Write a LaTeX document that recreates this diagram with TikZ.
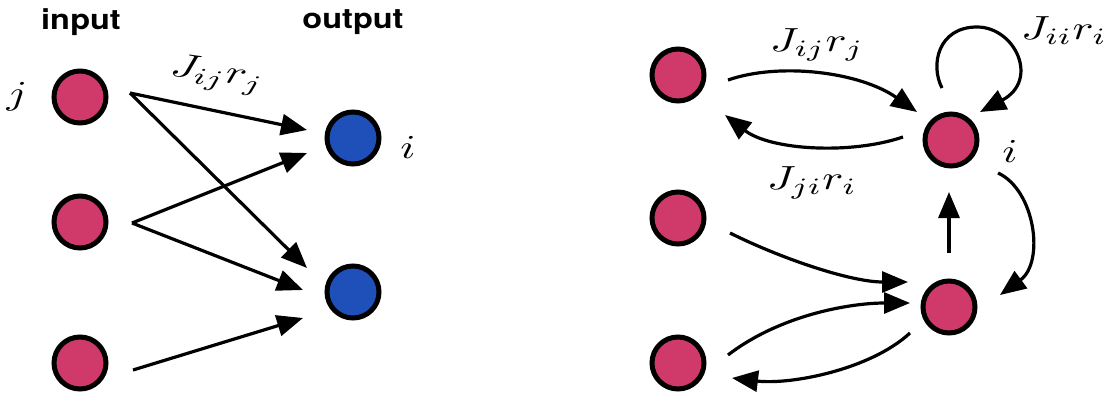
\documentclass[tikz,border=0pt]{standalone}
\usepackage{fontspec}
\newfontfamily\headfont{TeX Gyre Heros}
\usetikzlibrary{arrows.meta}
\definecolor{unitpink}{HTML}{D03A6A}
\definecolor{unitblue}{HTML}{1F4FB8}
\tikzset{
  unit/.style={circle, draw=black, line width=5pt, minimum size=52pt, inner sep=0pt},
  inunit/.style={unit, fill=unitpink},
  outunit/.style={unit, fill=unitblue},
  conn/.style={line width=3.2pt, -{Triangle[length=26pt,width=21pt]}},
  mathlbl/.style={inner sep=0pt, xscale=4.4, yscale=3.35, transform shape},
  headlbl/.style={inner sep=0pt, font=\headfont\bfseries, xscale=3.25, yscale=2.8, transform shape},
}
\begin{document}
\begin{tikzpicture}[x=1pt, y=-1pt]
\useasboundingbox (0,0) rectangle (1112,399);

% ---------- feed-forward network ----------
\node[headlbl] (hin) at (81,22) {input};
\node[headlbl] (hout) at (353,22) {output};

\node[inunit] (a1) at (80,97) {};
\node[inunit] (a2) at (80,222) {};
\node[inunit] (a3) at (80,363) {};
\node[outunit] (b1) at (353,138) {};
\node[outunit] (b2) at (353,292) {};

\node[mathlbl] (lj) at (17,97) {$j$};
\node[mathlbl] (li) at (408,147) {$i$};
\node[mathlbl, rotate=-10] (lw) at (217,75) {$J_{ij}r_j$};

\coordinate (a1o) at (130,93);
\coordinate (a2o) at (132,223);
\coordinate (a3o) at (133,370);
\coordinate (b1ia) at (307,130);
\coordinate (b1ib) at (307,153);
\coordinate (b2ia) at (307,268);
\coordinate (b2ib) at (303,290);
\coordinate (b2ic) at (303,318);

\draw[conn] (a1o) -- (b1ia);
\draw[conn] (a1o) -- (b2ia);
\draw[conn] (a2o) -- (b1ib);
\draw[conn] (a2o) -- (b2ib);
\draw[conn] (a3o) -- (b2ic);

% ---------- recurrent network ----------
\node[inunit] (r1) at (678,75) {};
\node[inunit] (r2) at (678,218) {};
\node[inunit] (r3) at (678,363) {};
\node[inunit] (ri) at (951,140) {};
\node[inunit] (rk) at (949,307) {};

\node[mathlbl] (lij) at (817,45) {$J_{ij}r_j$};
\node[mathlbl] (lji) at (812,183) {$J_{ji}r_i$};
\node[mathlbl] (lii) at (1064,31) {$J_{ii}r_i$};
\node[mathlbl] (lri) at (1010,151) {$i$};

% connector end points around the units
\coordinate (r1o) at (728,80);
\coordinate (r1i) at (725,115);
\coordinate (r2o) at (730,233);
\coordinate (r3o) at (728,355);
\coordinate (r3i) at (732,378);
\coordinate (riw) at (917,112);
\coordinate (riwo) at (903,137);
\coordinate (rito) at (942,88);
\coordinate (riti) at (980,112);
\coordinate (rib) at (949,192);
\coordinate (rie) at (998,173);
\coordinate (rkt) at (949,253);
\coordinate (rke) at (1000,295);
\coordinate (rkwa) at (908,282);
\coordinate (rkwb) at (910,303);
\coordinate (rkwo) at (910,333);

% j -> i and back
\draw[conn] (r1o) .. controls (780,62) and (860,72) .. (riw);
\draw[conn] (riwo) .. controls (850,155) and (770,150) .. (r1i);
% self connection of i
\draw[conn] (rito) .. controls (930,65) and (938,27) .. (977,27)
  .. controls (1015,27) and (1040,80) .. (riti);
% k -> i
\draw[conn] (rkt) -- (rib);
% i -> k
\draw[conn] (rie) .. controls (1035,190) and (1045,262) .. (rke);
% left units -> k
\draw[conn] (r2o) .. controls (780,258) and (850,282) .. (rkwa);
\draw[conn] (r3o) .. controls (780,315) and (850,303) .. (rkwb);
% k -> bottom left unit
\draw[conn] (rkwo) .. controls (870,370) and (790,385) .. (r3i);
\end{tikzpicture}
\end{document}
